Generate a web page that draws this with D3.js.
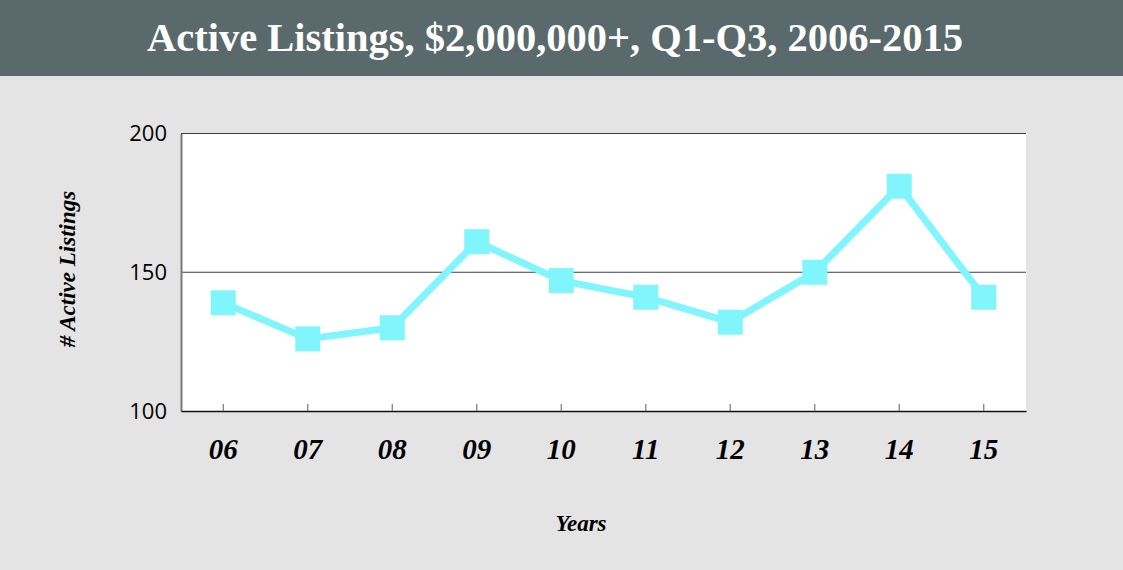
<!DOCTYPE html>
<html>
<head>
<meta charset="utf-8">
<script src="https://cdn.jsdelivr.net/npm/d3@7"></script>
<style>
  body { margin: 0; background: #e4e4e4; }
  svg { display: block; }
</style>
</head>
<body>
<div id="chart"></div>
<script>
// data
const years = ["06", "07", "08", "09", "10", "11", "12", "13", "14", "15"];
const listings = [139, 126, 130, 161, 147, 141, 132, 150, 181, 141];
const yTicks = [100, 150, 200];

const W = 1123, H = 570;
const margin = {top: 133.5, right: 97, bottom: 159, left: 181};
const width = W - margin.left - margin.right,
      height = H - margin.top - margin.bottom;

const svg = d3.select("#chart").append("svg")
  .attr("width", W)
  .attr("height", H);

svg.append("rect").attr("width", W).attr("height", H).attr("fill", "#e4e4e4");

// title bar
svg.append("rect").attr("width", W).attr("height", 76).attr("fill", "#5a696b");
svg.append("text")
  .attr("x", 147).attr("y", 51)
  .attr("textLength", 816)
  .attr("lengthAdjust", "spacingAndGlyphs")
  .attr("fill", "#fff")
  .style("font-family", "'Liberation Serif', 'DejaVu Serif', serif")
  .style("font-weight", "bold")
  .style("font-size", "39px")
  .text("Active Listings, $2,000,000+, Q1-Q3, 2006-2015");

const g = svg.append("g").attr("transform", `translate(${margin.left},${margin.top})`);

const x = d3.scaleBand().domain(years).range([0, width]);
const y = d3.scaleLinear().domain([100, 200]).range([height, 0]);

g.append("rect").attr("width", width).attr("height", height).attr("fill", "#fff");

// gridlines
g.selectAll(".grid")
  .data(yTicks.filter(d => d > 100))
  .enter().append("line")
  .attr("x1", 0).attr("x2", width)
  .attr("y1", d => y(d)).attr("y2", d => y(d))
  .attr("stroke", "#3c3c3c").attr("stroke-width", 1.2);

// y axis
const yAxis = g.append("g")
  .call(d3.axisLeft(y).tickValues(yTicks).tickSize(0).tickPadding(14));
yAxis.select(".domain").attr("stroke", "#7a7a7a").attr("stroke-width", 2);
yAxis.selectAll("text")
  .style("font-family", "'Open Sans', 'DejaVu Sans', sans-serif")
  .style("font-size", "22px")
  .attr("fill", "#000");

// x axis, ticks point up into the plot
const xAxis = g.append("g")
  .attr("transform", `translate(0,${height})`)
  .call(d3.axisBottom(x).tickSize(-7).tickSizeOuter(0).tickPadding(27));
xAxis.select(".domain").attr("stroke", "#111").attr("stroke-width", 1.5);
xAxis.selectAll(".tick line").attr("stroke", "#777").attr("stroke-width", 1.2);
xAxis.selectAll("text")
  .style("font-family", "'Liberation Serif', 'DejaVu Serif', serif")
  .style("font-style", "italic")
  .style("font-weight", "bold")
  .style("font-size", "29px")
  .attr("fill", "#000");

// series line
const line = d3.line()
  .x((d, i) => x(years[i]) + x.bandwidth() / 2)
  .y(d => y(d));

g.append("path")
  .datum(listings)
  .attr("d", line)
  .attr("fill", "none")
  .attr("stroke", "#80f6fc")
  .attr("stroke-width", 7)
  .attr("stroke-linejoin", "round");

const ms = 25;
g.selectAll(".marker")
  .data(listings)
  .enter().append("rect")
  .attr("class", "marker")
  .attr("x", (d, i) => x(years[i]) + x.bandwidth() / 2 - ms / 2)
  .attr("y", d => y(d) - ms / 2)
  .attr("width", ms).attr("height", ms)
  .attr("fill", "#80f6fc");

// axis titles
svg.append("text")
  .attr("x", 581).attr("y", 531)
  .attr("text-anchor", "middle")
  .style("font-family", "'Liberation Serif', 'DejaVu Serif', serif")
  .style("font-style", "italic").style("font-weight", "bold")
  .style("font-size", "23px")
  .text("Years");

svg.append("text")
  .attr("transform", "translate(75,269) rotate(-90)")
  .attr("text-anchor", "middle")
  .style("font-family", "'Liberation Serif', 'DejaVu Serif', serif")
  .style("font-style", "italic").style("font-weight", "bold")
  .style("font-size", "23px")
  .text("# Active Listings");
</script>
</body>
</html>
